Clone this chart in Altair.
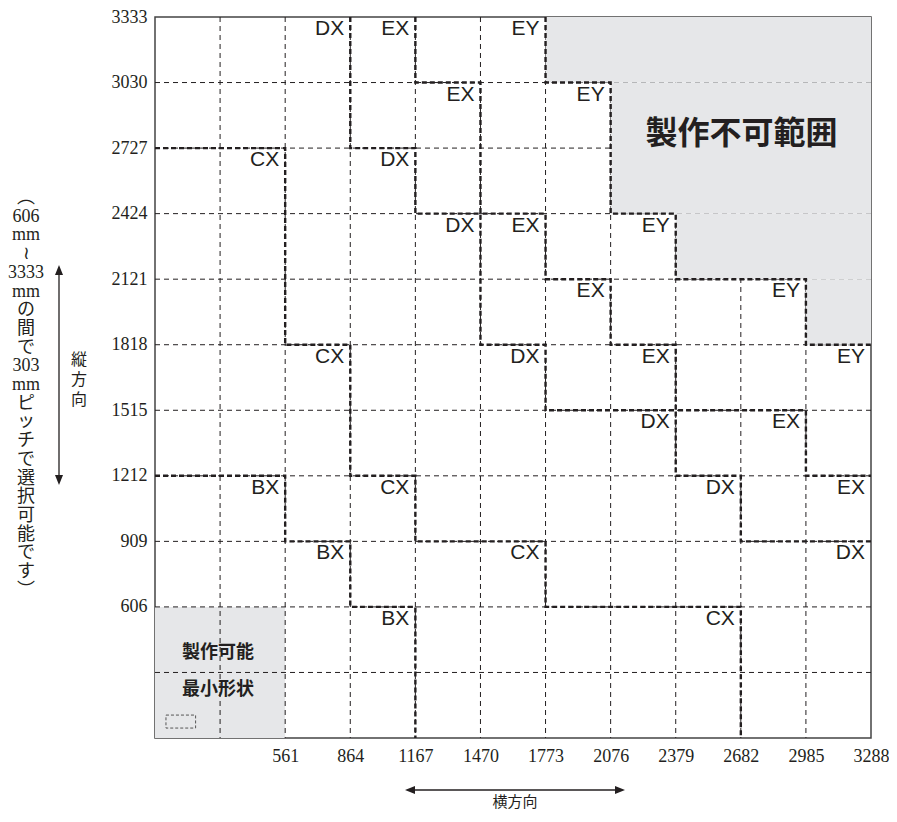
import altair as alt
import pandas as pd

INK = "#231f20"
GRAY = "#e6e7e9"

# ---- grid boundaries (mm) ----
x_edges = [-45, 258, 561, 864, 1167, 1470, 1773, 2076, 2379, 2682, 2985, 3288]
y_edges = [0, 303, 606, 909, 1212, 1515, 1818, 2121, 2424, 2727, 3030, 3333]
x_tick_labels = [561, 864, 1167, 1470, 1773, 2076, 2379, 2682, 2985, 3288]
y_tick_labels = [606, 909, 1212, 1515, 1818, 2121, 2424, 2727, 3030, 3333]

# ---- size-class labels: text, right edge of its cell (mm), top edge of its cell (mm) ----
cell_text = ["DX", "EX", "EY",
             "EX", "EY",
             "CX", "DX",
             "DX", "EX", "EY",
             "EX", "EY",
             "CX", "DX", "EX", "EY",
             "DX", "EX",
             "BX", "CX", "DX", "EX",
             "BX", "CX", "DX",
             "BX", "CX"]
cell_right = [864, 1167, 1773,
              1470, 2076,
              561, 1167,
              1470, 1773, 2379,
              2076, 2985,
              864, 1773, 2379, 3288,
              2379, 2985,
              561, 1167, 2682, 3288,
              864, 1773, 3288,
              1167, 2682]
cell_top = [3333, 3333, 3333,
            3030, 3030,
            2727, 2727,
            2424, 2424, 2424,
            2121, 2121,
            1818, 1818, 1818, 1818,
            1515, 1515,
            1212, 1212, 1212, 1212,
            909, 909, 909,
            606, 606]

# ---- not-manufacturable region (staircase of rows) ----
ng_x_start = [1773, 2076, 2076, 2379, 2985]
ng_x_end = [3288, 3288, 3288, 3288, 3288]
ng_y_bottom = [3030, 2727, 2424, 2121, 1818]
ng_y_top = [3333, 3030, 2727, 2424, 2121]

# ---- minimum shape region ----
min_x = [-45]
min_x2 = [561]
min_y = [0]
min_y2 = [606]

# ---- zone boundaries (bold dashed staircases) ----
bc_x = [-45, 561, 561, 864, 864, 1167, 1167]
bc_y = [1212, 1212, 909, 909, 606, 606, 0]
cd_x = [-45, 561, 561, 864, 864, 1167, 1167, 1773, 1773, 2682, 2682]
cd_y = [2727, 2727, 1818, 1818, 1212, 1212, 909, 909, 606, 606, 0]
de_x = [864, 864, 1167, 1167, 1470, 1470, 1773, 1773, 2379, 2379, 2682, 2682, 3288]
de_y = [3333, 2727, 2727, 2424, 2424, 1818, 1818, 1515, 1515, 1212, 1212, 909, 909]
exey_x = [1167, 1167, 1470, 1470, 1773, 1773, 2076, 2076, 2379, 2379, 2985, 2985, 3288]
exey_y = [3333, 3030, 3030, 2424, 2424, 2121, 2121, 1818, 1818, 1515, 1515, 1212, 1212]
eyng_x = [1773, 1773, 2076, 2076, 2379, 2379, 2985, 2985, 3288]
eyng_y = [3333, 3030, 3030, 2424, 2424, 2121, 2121, 1818, 1818]

# ---- texts ----
ng_label = "製作不可範囲"
ng_label_x = [2685]
ng_label_y = [2790]
min_label = ["製作可能", "最小形状"]
min_label_x = [248, 248]
min_label_y = [393, 222]
small_rect_x = [6]
small_rect_x2 = [144]
small_rect_y = [46]
small_rect_y2 = [106]
y_note = ["︵", "606", "mm", "≀", "3333", "mm", "の", "間", "で", "303", "mm",
          "ピ", "ッ", "チ", "で", "選", "択", "可", "能", "で", "す", "︶"]
y_dir = ["縦", "方", "向"]
x_dir = "横方向"

# ---------------- build ----------------
sx = alt.Scale(domain=[x_edges[0], x_edges[-1]], nice=False, zero=False)
sy = alt.Scale(domain=[y_edges[0], y_edges[-1]], nice=False, zero=False)
ax = alt.Axis(values=x_tick_labels, format="d", grid=False, ticks=False, domain=False,
              labelFont="Liberation Serif", labelFontSize=18, labelColor=INK,
              labelPadding=9, labelFlush=False, labelOverlap=False, title=None)
ay = alt.Axis(values=y_tick_labels, format="d", grid=False, ticks=False, domain=False,
              labelFont="Liberation Serif", labelFontSize=18, labelColor=INK,
              labelPadding=8, labelFlush=False, labelOverlap=False, title=None)


def X(f):
    return alt.X(f, type="quantitative", scale=sx, axis=ax)


def Y(f):
    return alt.Y(f, type="quantitative", scale=sy, axis=ay)


one = pd.DataFrame({"a": [0]})

min_df = pd.DataFrame({"x": min_x, "x2": min_x2, "y": min_y, "y2": min_y2})
min_rect = alt.Chart(min_df).mark_rect(color=GRAY).encode(
    x=X("x"), x2="x2", y=Y("y"), y2="y2")

vgrid = alt.Chart(pd.DataFrame({"x": x_edges[1:-1]})).mark_rule(
    color=INK, strokeWidth=1, strokeDash=[5, 4]).encode(x=X("x"))
hgrid = alt.Chart(pd.DataFrame({"y": y_edges[1:-1]})).mark_rule(
    color=INK, strokeWidth=1, strokeDash=[5, 4]).encode(y=Y("y"))

ng_df = pd.DataFrame({"x": ng_x_start, "x2": ng_x_end, "y": ng_y_bottom, "y2": ng_y_top})
ng_rect = alt.Chart(ng_df).mark_rect(color=GRAY).encode(
    x=X("x"), x2="x2", y=Y("y"), y2="y2")

rows = []
for name, xs, ys in [("BC", bc_x, bc_y), ("CD", cd_x, cd_y), ("DE", de_x, de_y),
                     ("EXEY", exey_x, exey_y), ("EYNG", eyng_x, eyng_y)]:
    for i, (xv, yv) in enumerate(zip(xs, ys)):
        rows.append({"b": name, "o": i, "x": xv, "y": yv})
bound_df = pd.DataFrame(rows)
bounds = alt.Chart(bound_df).mark_line(
    color=INK, strokeWidth=2.4, strokeDash=[5, 3], strokeCap="butt").encode(
    x=X("x"), y=Y("y"), detail="b:N", order="o:Q")

cell_df = pd.DataFrame({"t": cell_text, "x": cell_right, "y": cell_top})
cells = alt.Chart(cell_df).mark_text(
    align="right", baseline="top", dx=-6, dy=1, font="Liberation Sans",
    fontSize=21, color=INK).encode(x=X("x"), y=Y("y"), text="t:N")

ng_txt = alt.Chart(pd.DataFrame({"x": ng_label_x, "y": ng_label_y, "t": [ng_label]})).mark_text(
    font="Noto Sans CJK JP", fontWeight="bold", fontSize=32, color=INK,
    align="center", baseline="middle").encode(x=X("x"), y=Y("y"), text="t:N")

min_txt = alt.Chart(pd.DataFrame({"x": min_label_x, "y": min_label_y, "t": min_label})).mark_text(
    font="Noto Sans CJK JP", fontWeight="bold", fontSize=18, color=INK,
    align="center", baseline="middle").encode(x=X("x"), y=Y("y"), text="t:N")

small_rect = alt.Chart(pd.DataFrame({"x": small_rect_x, "x2": small_rect_x2,
                                     "y": small_rect_y, "y2": small_rect_y2})).mark_rect(
    fill=None, fillOpacity=0, stroke="#555555", strokeWidth=1, strokeDash=[3, 2]).encode(
    x=X("x"), x2="x2", y=Y("y"), y2="y2")

# ---- annotations outside the plot (pixel offsets from plot origin) ----
note_font = "Liberation Serif, Noto Sans CJK JP"
y_note_txt = alt.Chart(one).mark_text(
    text=y_note, font=note_font, fontSize=18, lineHeight=18.7, color=INK,
    align="center", baseline="top").encode(x=alt.value(-129), y=alt.value(172))

y_dir_txt = alt.Chart(one).mark_text(
    text=y_dir, font="Noto Sans CJK JP", fontSize=16, lineHeight=20, color=INK,
    align="center", baseline="top").encode(x=alt.value(-76), y=alt.value(335))

v_arrow = alt.Chart(one).mark_rule(color=INK, strokeWidth=1.3).encode(
    x=alt.value(-96), y=alt.value(254), y2=alt.value(462))
v_head_up = alt.Chart(one).mark_point(
    shape="M0,-1L0.8,1L-0.8,1Z", filled=True, opacity=1, color=INK, size=100).encode(
    x=alt.value(-96), y=alt.value(253))
v_head_dn = alt.Chart(one).mark_point(
    shape="M0,1L0.8,-1L-0.8,-1Z", filled=True, opacity=1, color=INK, size=100).encode(
    x=alt.value(-96), y=alt.value(463))

h_arrow = alt.Chart(one).mark_rule(color=INK, strokeWidth=1.3).encode(
    x=alt.value(255), x2=alt.value(465), y=alt.value(773))
h_head_l = alt.Chart(one).mark_point(
    shape="M-1,0L1,-0.8L1,0.8Z", filled=True, opacity=1, color=INK, size=100).encode(
    x=alt.value(255), y=alt.value(773))
h_head_r = alt.Chart(one).mark_point(
    shape="M1,0L-1,-0.8L-1,0.8Z", filled=True, opacity=1, color=INK, size=100).encode(
    x=alt.value(465), y=alt.value(773))
x_dir_txt = alt.Chart(one).mark_text(
    text=x_dir, font="Noto Sans CJK JP", fontSize=15, color=INK,
    align="center", baseline="middle").encode(x=alt.value(360), y=alt.value(785))

chart = alt.layer(
    min_rect, vgrid, hgrid, ng_rect, bounds, cells, ng_txt, min_txt, small_rect,
    y_note_txt, y_dir_txt, v_arrow, v_head_up, v_head_dn,
    h_arrow, h_head_l, h_head_r, x_dir_txt
).properties(
    width=716, height=721,
    padding={"left": 147, "top": 9, "right": 18, "bottom": 76},
    autosize=alt.AutoSizeParams(type="none"),
    background="white",
).configure_view(stroke="#444444", strokeWidth=1.5)

chart.save("out.html", embed_options={"renderer": "svg", "actions": False})
